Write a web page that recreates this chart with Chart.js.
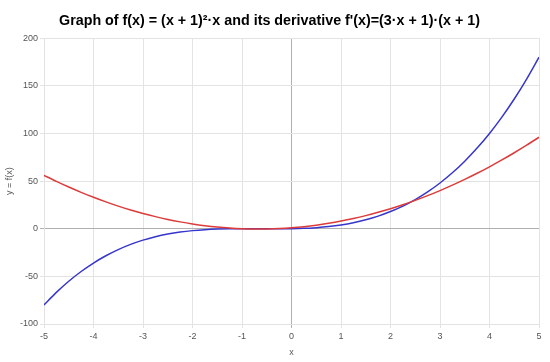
<!DOCTYPE html>
<html>
<head>
<meta charset="utf-8">
<script src="https://cdn.jsdelivr.net/npm/chart.js@4/dist/chart.umd.min.js"></script>
<style>
  html, body { margin: 0; padding: 0; background: #fff; }
  #wrap { width: 550px; height: 362px; }
</style>
</head>
<body>
<div id="wrap"><canvas id="c"></canvas></div>
<script>
// x positions sampled every 0.25
const xValues = [-5, -4.75, -4.5, -4.25, -4, -3.75, -3.5, -3.25, -3, -2.75, -2.5, -2.25, -2, -1.75, -1.5, -1.25, -1, -0.75, -0.5, -0.25,
  0, 0.25, 0.5, 0.75, 1, 1.25, 1.5, 1.75, 2, 2.25, 2.5, 2.75, 3, 3.25, 3.5, 3.75, 4, 4.25, 4.5, 4.75, 5];

// f(x), blue
const fValues = [-80, -66.8, -55.13, -44.89, -36, -28.36, -21.88, -16.45, -12, -8.42, -5.63, -3.52, -2, -0.98, -0.38, -0.08, 0, -0.05, -0.13, -0.14,
  0, 0.39, 1.13, 2.3, 4, 6.33, 9.38, 13.23, 18, 23.77, 30.63, 38.67, 48, 58.7, 70.88, 84.61, 100, 117.14, 136.13, 157.05, 180];

// f'(x), red
const dfValues = [56, 49.69, 43.75, 38.19, 33, 28.19, 23.75, 19.69, 16, 12.69, 9.75, 7.19, 5, 3.19, 1.75, 0.69, 0, -0.31, -0.25, 0.19,
  1, 2.19, 3.75, 5.69, 8, 10.69, 13.75, 17.19, 21, 25.19, 29.75, 34.69, 40, 45.69, 51.75, 58.19, 65, 72.19, 79.75, 87.69, 96];

const xTicks = [-5, -4, -3, -2, -1, 0, 1, 2, 3, 4, 5];
const yTicks = [-100, -50, 0, 50, 100, 150, 200];

const gridColor = "#e3e3e3";
const zeroColor = "#b0b0b0";
const tickColor = "#555";

function toPoints(ys) {
  return xValues.map((x, i) => ({ x, y: ys[i] }));
}

new Chart(document.getElementById("c"), {
  type: "line",
  data: {
    datasets: [
      { label: "f'(x)", data: toPoints(dfValues), borderColor: "#dd3b3b", borderWidth: 1.5, pointRadius: 0, tension: 0.3, fill: false },
      { label: "f(x)", data: toPoints(fValues), borderColor: "#3636cc", borderWidth: 1.5, pointRadius: 0, tension: 0.3, fill: false }
    ]
  },
  options: {
    responsive: true,
    maintainAspectRatio: false,
    animation: false,
    layout: { padding: { left: 0, right: 11, top: 0, bottom: 0 } },
    plugins: {
      legend: { display: false },
      tooltip: { enabled: false },
      title: {
        display: true,
        text: "Graph of f(x) = (x + 1)\u00B2\u00B7x and its derivative f'(x)=(3\u00B7x + 1)\u00B7(x + 1)",
        color: "#000",
        font: { family: "Arial, 'Liberation Sans', sans-serif", size: 14.3, weight: "bold" },
        padding: { top: 12, bottom: 9 }
      }
    },
    scales: {
      x: {
        type: "linear",
        min: -5,
        max: 5,
        afterBuildTicks: (scale) => { scale.ticks = xTicks.map((v) => ({ value: v })); },
        afterFit: (scale) => { scale.height = 38; },
        grid: {
          color: (ctx) => ctx.tick && ctx.tick.value === 0 ? zeroColor : gridColor,
          tickLength: 4
        },
        border: { color: gridColor },
        ticks: { color: tickColor, padding: 3, maxRotation: 0, font: { family: "Arial, 'Liberation Sans', sans-serif", size: 9 } },
        title: { display: true, text: "x", color: tickColor, font: { family: "Arial, 'Liberation Sans', sans-serif", size: 9 } }
      },
      y: {
        type: "linear",
        min: -100,
        max: 200,
        afterBuildTicks: (scale) => { scale.ticks = yTicks.map((v) => ({ value: v })); },
        afterFit: (scale) => { scale.width = 44; },
        grid: {
          color: (ctx) => ctx.tick && ctx.tick.value === 0 ? zeroColor : gridColor,
          tickLength: 4
        },
        border: { color: gridColor },
        ticks: { color: tickColor, padding: 2, font: { family: "Arial, 'Liberation Sans', sans-serif", size: 9 } },
        title: { display: true, text: "y = f(x)", color: tickColor, font: { family: "Arial, 'Liberation Sans', sans-serif", size: 9 } }
      }
    }
  }
});
</script>
</body>
</html>
